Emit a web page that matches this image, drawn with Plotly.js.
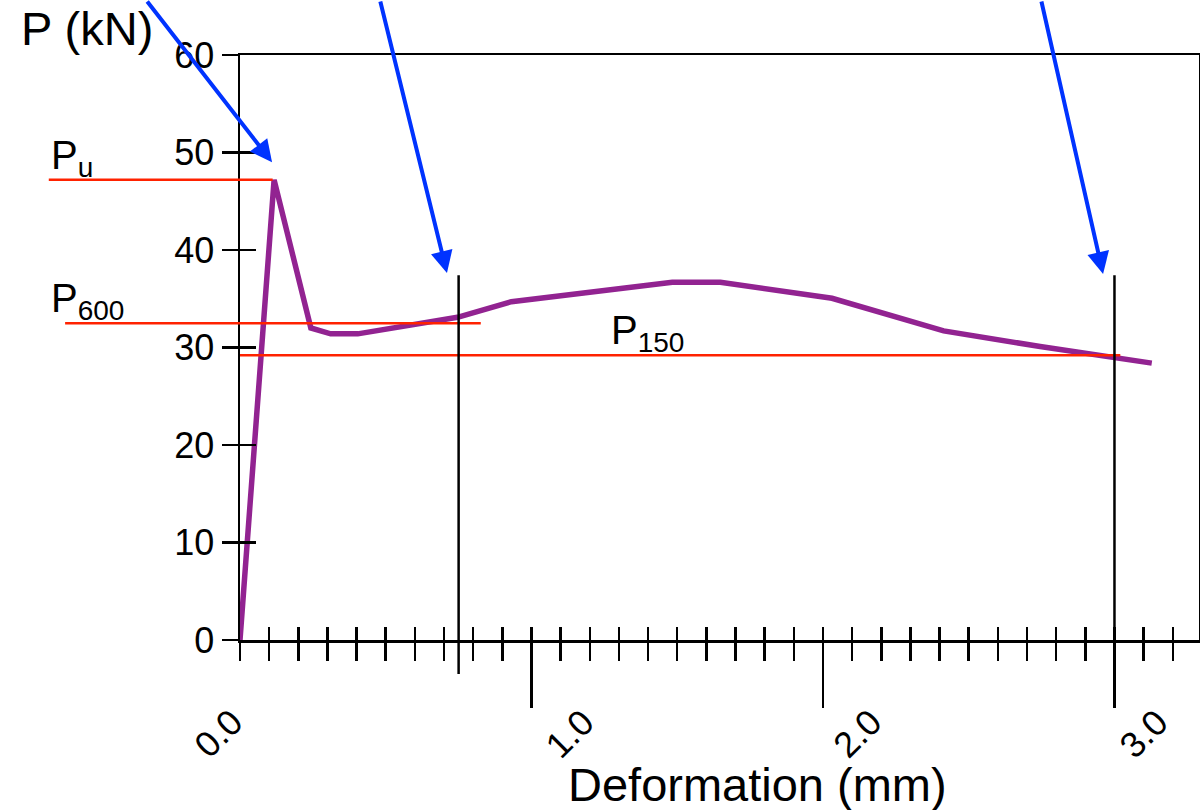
<!DOCTYPE html>
<html><head><meta charset="utf-8">
<script src="https://cdn.plot.ly/plotly-3.0.1.min.js"></script>
<style>html,body{margin:0;padding:0;background:#fff}#chart{width:1200px;height:810px}</style>
</head><body><div id="chart"></div>
<script>
// ---- data ----
const deformation = [0, 0.117, 0.243, 0.311, 0.404, 0.746, 0.931, 1.483, 1.648, 2.031, 2.414, 2.745, 3.128];
const load        = [0, 47.2, 32.0, 31.4, 31.4, 33.1, 34.7, 36.7, 36.7, 35.05, 31.7, 30.1, 28.4];
const xTickValues = [0, 1, 2, 3];
const xTickLabels = ['0.0', '1.0', '2.0', '3.0'];
const yTickValues = [0, 10, 20, 30, 40, 50, 60];
const levelNames  = ['P<sub>u</sub>', 'P<sub>600</sub>', 'P<sub>150</sub>'];
const levelValues = [47.2, 32.5, 29.2];
const markerDeformations = [0.75, 3.0];

// ---- geometry / style ----
const X_MAX = 3.29, Y_MAX = 60;
const L = 240, T = 55, W = 1200, H = 810, PW = 959, PH = 585;
const FONT = 'Liberation Sans, Arial, sans-serif';
const RED = '#ff2200', PURPLE = '#922391', BLUE = '#0033ff';
const pxX = px => (px - L) / PW;           // pixel -> paper x
const pxY = py => (T + PH - py) / PH;      // pixel -> paper y
const dataToPaperX = v => v / X_MAX;

// extents of the level lines (in deformation units) and label placement (pixels)
const levelLineStart = [-0.656, -0.60, 0];
const levelLineEnd   = [0.112, 0.826, 3.02];
const levelLabelPos  = [[49, 158], [49, 301], [609, 333]];
const tickLabelShift = [-22, 38, 34, 29];
const markerLineBottom = [pxY(674), 0];
const markerLineTop = 37.4 / Y_MAX;

const shapes = [];
levelValues.forEach((v, i) => {
  shapes.push({type:'line', layer:'above', xref:'paper', yref:'y',
    x0: dataToPaperX(levelLineStart[i]), x1: dataToPaperX(levelLineEnd[i]), y0: v, y1: v,
    line:{color:RED, width:2.5}});
});
markerDeformations.forEach((v, i) => {
  shapes.push({type:'line', layer:'above', xref:'x', yref:'paper',
    x0: v, x1: v, y0: markerLineBottom[i], y1: markerLineTop,
    line:{color:'#000', width:2.5}});
});

const annotations = [];
// x tick labels (rotated)
xTickValues.forEach((v, i) => {
  annotations.push({xref:'x', yref:'paper', x:v, y:0, xanchor:'center', yanchor:'middle',
    xshift: tickLabelShift[i], yshift: -93, text: xTickLabels[i], textangle:-45,
    showarrow:false, font:{family:FONT, size:36, color:'#000'}});
});
// level labels
levelNames.forEach((t, i) => {
  annotations.push({xref:'paper', yref:'paper', x:pxX(levelLabelPos[i][0]), y:pxY(levelLabelPos[i][1]),
    xanchor:'left', yanchor:'middle', text:t, showarrow:false,
    font:{family:FONT, size:40, color:'#000'}});
});
// axis titles
annotations.push({xref:'paper', yref:'paper', x:pxX(87), y:pxY(29), xanchor:'center', yanchor:'middle',
  text:'P (kN)', showarrow:false, font:{family:FONT, size:47, color:'#000'}});
annotations.push({xref:'paper', yref:'paper', x:pxX(757), y:pxY(784), xanchor:'center', yanchor:'middle',
  text:'Deformation (mm)', showarrow:false, font:{family:FONT, size:47, color:'#000'}});
// blue arrows
const arrows = [[0.110, 49.0, -126, -182], [0.710, 37.64, -67, -293], [2.961, 37.54, -62, -294]];
arrows.forEach(a => {
  annotations.push({xref:'x', yref:'y', x:a[0], y:a[1], ax:a[2], ay:a[3], text:'',
    showarrow:true, arrowhead:2, arrowsize:1.1, arrowwidth:4, arrowcolor:BLUE, standoff:0});
});

const traces = [
  {x: deformation, y: load, type:'scatter', mode:'lines', line:{color:PURPLE, width:5.5},
   hoverinfo:'skip', showlegend:false},
  {x: [], y: [], xaxis:'x2', yaxis:'y2', type:'scatter', mode:'lines', hoverinfo:'skip', showlegend:false}
];

const layout = {
  width: W, height: H,
  margin: {l: L, r: W - L - PW, t: T, b: H - T - PH, pad: 0},
  paper_bgcolor:'#fff', plot_bgcolor:'#fff',
  font: {family: FONT, color:'#000'},
  showlegend:false,
  xaxis: {range:[0, X_MAX], tickmode:'array', tickvals: xTickValues.filter(v => v > 0),
    ticks:'outside', ticklen:65, tickwidth:2.5, tickcolor:'#000', showticklabels:false,
    showline:true, linewidth:2.5, linecolor:'#000', mirror:true, showgrid:false, zeroline:false,
    minor:{tickmode:'linear', tick0:0, dtick:0.1, ticks:'outside', ticklen:18, tickwidth:2.5, tickcolor:'#000', showgrid:false}},
  xaxis2: {overlaying:'x', anchor:'y2', range:[0, X_MAX], tickmode:'linear', tick0:0, dtick:0.1,
    ticks:'inside', ticklen:13, tickwidth:2.5, tickcolor:'#000', showticklabels:false,
    showline:false, showgrid:false, zeroline:false},
  yaxis: {range:[0, Y_MAX], tickmode:'array', tickvals: yTickValues, ticks:'outside', ticklen:16,
    tickwidth:2.5, tickcolor:'#000', tickfont:{family:FONT, size:36, color:'#000'},
    showline:true, linewidth:2.5, linecolor:'#000', mirror:true, showgrid:false, zeroline:false},
  yaxis2: {overlaying:'y', anchor:'x2', side:'left', range:[0, Y_MAX], tickmode:'array', tickvals: yTickValues,
    ticks:'inside', ticklen:16, tickwidth:2.5, tickcolor:'#000', showticklabels:false,
    showline:false, showgrid:false, zeroline:false},
  shapes: shapes,
  annotations: annotations
};

Plotly.newPlot('chart', traces, layout, {staticPlot:true, displayModeBar:false});
</script>
</body></html>
